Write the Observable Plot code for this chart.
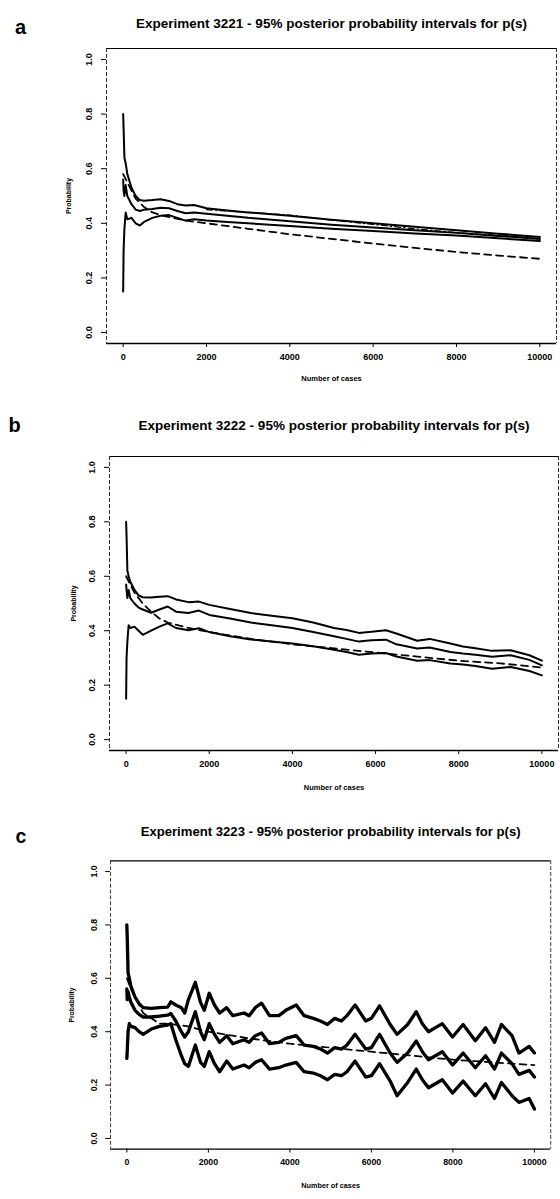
<!DOCTYPE html>
<html>
<head>
<meta charset="utf-8">
<script src="https://cdn.jsdelivr.net/npm/d3@7"></script>
<script src="https://cdn.jsdelivr.net/npm/@observablehq/plot@0.6"></script>
<style>
  html, body { margin: 0; padding: 0; background: #fff; overflow: hidden; }
  #wrap { position: relative; width: 560px; height: 1199px; overflow: hidden; }
  .panel { position: absolute; left: 0; }
  svg { display: block; }
</style>
</head>
<body>
<div id="wrap">
  <div class="panel" id="pa" style="top:0px"></div>
  <div class="panel" id="pb" style="top:400px"></div>
  <div class="panel" id="pc" style="top:800px"></div>
</div>
<script>
// ---------- shared ticks ----------
const xTicks = [0, 2000, 4000, 6000, 8000, 10000];
const yTicks = [0, 0.2, 0.4, 0.6, 0.8, 1.0];
const yTickLabels = ["0.0", "0.2", "0.4", "0.6", "0.8", "1.0"];
const titles = [
  "Experiment 3221 - 95% posterior probability intervals for p(s)",
  "Experiment 3222 - 95% posterior probability intervals for p(s)",
  "Experiment 3223 - 95% posterior probability intervals for p(s)"
];
const letters = ["a", "b", "c"];
const xLabel = "Number of cases";
const yLabel = "Probability";

// ---------- panel a ----------
const xs_a     = [0, 10, 30, 60, 100, 200, 300, 400, 500, 700, 900, 1100, 1300, 1500, 1700, 2000, 2500, 3000, 4000, 5000, 6000, 7000, 8000, 9000, 10000];
const upper_a  = [0.80, 0.75, 0.64, 0.62, 0.58, 0.53, 0.50, 0.485, 0.483, 0.485, 0.488, 0.482, 0.47, 0.465, 0.467, 0.455, 0.447, 0.44, 0.428, 0.413, 0.40, 0.387, 0.375, 0.362, 0.35];
const middle_a = [0.56, 0.52, 0.50, 0.54, 0.50, 0.47, 0.45, 0.445, 0.45, 0.452, 0.457, 0.455, 0.445, 0.437, 0.44, 0.435, 0.428, 0.42, 0.408, 0.395, 0.385, 0.375, 0.365, 0.354, 0.343];
const lower_a  = [0.15, 0.30, 0.38, 0.44, 0.415, 0.42, 0.40, 0.392, 0.405, 0.42, 0.428, 0.43, 0.42, 0.41, 0.415, 0.41, 0.405, 0.40, 0.39, 0.38, 0.372, 0.363, 0.355, 0.345, 0.335];
const xd_a     = [0, 100, 200, 300, 500, 700, 900, 1200, 1500, 2000, 3000, 4000, 5000, 6000, 7000, 8000, 9000, 10000];
const dashed_a = [0.58, 0.55, 0.52, 0.49, 0.46, 0.44, 0.43, 0.42, 0.41, 0.40, 0.38, 0.36, 0.343, 0.326, 0.31, 0.295, 0.282, 0.27];
const xdd_a    = [2000, 3000, 4000, 5000, 6000, 7000, 8000, 9000, 10000];
const dotdash_a = [0.45, 0.44, 0.43, 0.412, 0.396, 0.38, 0.366, 0.356, 0.35];

// ---------- panel b ----------
const xs_b     = [0, 10, 30, 60, 100, 200, 300, 400, 600, 800, 1000, 1200, 1500, 1750, 2000, 2500, 3000, 3500, 4000, 4500, 5000, 5300, 5600, 5900, 6250, 6500, 7000, 7300, 7800, 8100, 8400, 8800, 9250, 9700, 10000];
const upper_b  = [0.80, 0.75, 0.62, 0.60, 0.58, 0.55, 0.53, 0.523, 0.522, 0.525, 0.527, 0.515, 0.505, 0.507, 0.495, 0.48, 0.465, 0.455, 0.446, 0.43, 0.41, 0.403, 0.392, 0.396, 0.402, 0.39, 0.363, 0.37, 0.353, 0.342, 0.336, 0.326, 0.328, 0.31, 0.29];
const middle_b = [0.57, 0.55, 0.52, 0.55, 0.52, 0.50, 0.485, 0.478, 0.466, 0.478, 0.489, 0.47, 0.465, 0.474, 0.458, 0.445, 0.43, 0.42, 0.41, 0.395, 0.38, 0.37, 0.36, 0.365, 0.367, 0.35, 0.335, 0.338, 0.322, 0.316, 0.312, 0.304, 0.31, 0.293, 0.273];
const lower_b  = [0.15, 0.30, 0.36, 0.42, 0.41, 0.415, 0.40, 0.385, 0.40, 0.415, 0.427, 0.41, 0.402, 0.409, 0.395, 0.38, 0.368, 0.36, 0.353, 0.343, 0.33, 0.322, 0.312, 0.316, 0.318, 0.305, 0.29, 0.292, 0.28, 0.276, 0.27, 0.26, 0.267, 0.252, 0.236];
const xd_b     = [0, 100, 200, 300, 400, 600, 800, 1000, 1500, 2000, 3000, 4000, 5000, 6000, 7000, 8000, 9000, 10000];
const dashed_b = [0.60, 0.57, 0.54, 0.52, 0.50, 0.47, 0.445, 0.43, 0.41, 0.395, 0.37, 0.35, 0.335, 0.32, 0.305, 0.29, 0.28, 0.265];

// ---------- panel c ----------
const xs_c     = [0, 10, 30, 60, 100, 200, 300, 400, 600, 800, 1000, 1080, 1200, 1338, 1420, 1510, 1680, 1808, 1900, 2021, 2150, 2277, 2450, 2600, 2875, 3000, 3150, 3305, 3500, 3728, 3900, 4155, 4350, 4575, 4750, 4922, 5100, 5264, 5400, 5600, 5862, 6000, 6200, 6460, 6630, 6890, 7100, 7250, 7400, 7740, 7990, 8250, 8550, 8800, 9020, 9190, 9450, 9620, 9870, 10000];
const upper_c  = [0.80, 0.75, 0.62, 0.60, 0.57, 0.53, 0.505, 0.49, 0.487, 0.49, 0.492, 0.512, 0.50, 0.49, 0.47, 0.52, 0.585, 0.51, 0.48, 0.544, 0.50, 0.47, 0.49, 0.46, 0.47, 0.46, 0.49, 0.507, 0.46, 0.46, 0.48, 0.50, 0.46, 0.45, 0.44, 0.427, 0.45, 0.44, 0.46, 0.50, 0.44, 0.45, 0.497, 0.427, 0.39, 0.427, 0.475, 0.43, 0.40, 0.43, 0.38, 0.427, 0.366, 0.415, 0.36, 0.427, 0.385, 0.32, 0.345, 0.32];
const middle_c = [0.56, 0.52, 0.55, 0.53, 0.51, 0.48, 0.465, 0.455, 0.455, 0.458, 0.462, 0.468, 0.44, 0.40, 0.38, 0.40, 0.475, 0.40, 0.37, 0.43, 0.39, 0.36, 0.385, 0.355, 0.37, 0.36, 0.385, 0.395, 0.355, 0.36, 0.375, 0.385, 0.35, 0.345, 0.335, 0.32, 0.34, 0.335, 0.35, 0.39, 0.335, 0.34, 0.39, 0.32, 0.285, 0.32, 0.365, 0.325, 0.295, 0.325, 0.275, 0.32, 0.265, 0.31, 0.26, 0.32, 0.28, 0.24, 0.255, 0.23];
const lower_c  = [0.30, 0.33, 0.40, 0.43, 0.42, 0.415, 0.40, 0.39, 0.41, 0.42, 0.425, 0.43, 0.37, 0.31, 0.28, 0.27, 0.35, 0.285, 0.27, 0.325, 0.28, 0.25, 0.29, 0.26, 0.275, 0.265, 0.285, 0.295, 0.26, 0.265, 0.275, 0.285, 0.25, 0.245, 0.235, 0.22, 0.24, 0.235, 0.25, 0.29, 0.23, 0.235, 0.28, 0.215, 0.16, 0.21, 0.26, 0.22, 0.19, 0.22, 0.17, 0.215, 0.16, 0.205, 0.15, 0.21, 0.16, 0.135, 0.15, 0.11];
const xd_c     = [0, 100, 200, 400, 600, 800, 1000, 1500, 2000, 3000, 4000, 5000, 6000, 7000, 8000, 9000, 10000];
const dashed_c = [0.60, 0.56, 0.53, 0.47, 0.45, 0.43, 0.43, 0.42, 0.40, 0.375, 0.355, 0.34, 0.325, 0.31, 0.295, 0.285, 0.275];

// ---------- helpers ----------
const rows = (xs, ys) => xs.map((x, i) => ({x, y: ys[i]}));
const FONT = "'Liberation Sans', Arial, Helvetica, sans-serif";

function panel(cfg) {
  const marks = [
    // frame
    Plot.ruleY([-0.04], {stroke: "#000", strokeWidth: 1.3}),
    Plot.ruleY([1.04], {stroke: "#000", strokeWidth: 1.1}),
    Plot.ruleX([-400], {stroke: "#333", strokeWidth: 1, strokeDasharray: "4,2"}),
    Plot.ruleX([10400], {stroke: "#333", strokeWidth: 1, strokeDasharray: "4,2"}),
    // axes
    Plot.axisX({ticks: xTicks, tickSize: 4, tickPadding: 6, tickFormat: d => String(d),
      fontSize: 9, fontWeight: "bold", label: null}),
    Plot.axisY({ticks: yTicks, tickSize: 5, tickFormat: () => "", label: null}),
    Plot.text(yTicks, {x: -400, y: d => d, text: (d, i) => yTickLabels[i], rotate: -90,
      dx: cfg.yLabDx, fontSize: 9, fontWeight: "bold", textAnchor: "middle", lineAnchor: "middle"}),
    // series
    ...cfg.solid.map(s => Plot.line(s, {x: "x", y: "y", stroke: "#000", strokeWidth: cfg.sw, strokeLinejoin: "round"})),
    Plot.line(cfg.dashed, {x: "x", y: "y", stroke: "#000", strokeWidth: 1.8, strokeDasharray: "7,5"}),
    ...(cfg.dotdash ? [Plot.line(cfg.dotdash, {x: "x", y: "y", stroke: "#000", strokeWidth: 1.2, strokeDasharray: "6,3,1.5,3"})] : []),
    // texts
    Plot.text([cfg.title], {frameAnchor: "top", dy: cfg.titleDy, fontSize: 13.5, fontWeight: "bold", text: d => d, lineAnchor: "middle"}),
    Plot.text([cfg.letter], {frameAnchor: "top-left", dx: cfg.letterDx, dy: cfg.letterDy, fontSize: 20,
      fontWeight: "bold", text: d => d, textAnchor: "middle", lineAnchor: "middle"}),
    Plot.text([yLabel], {frameAnchor: "left", dx: cfg.ylabelDx, rotate: -90, fontSize: 7, fontWeight: "bold",
      text: d => d, textAnchor: "middle", lineAnchor: "middle"}),
    Plot.text([xLabel], {frameAnchor: "bottom", dy: cfg.xlabelDy, fontSize: 7.5, fontWeight: "bold",
      text: d => d, lineAnchor: "middle"})
  ];
  return Plot.plot({
    width: cfg.width, height: cfg.height,
    marginTop: cfg.mt, marginBottom: cfg.mb, marginLeft: cfg.ml, marginRight: cfg.mr,
    x: {domain: [-400, 10400], axis: null},
    y: {domain: [-0.04, 1.04], axis: null},
    style: {fontFamily: FONT, color: "#000", background: "#fff", overflow: "visible"},
    marks
  });
}

document.getElementById("pa").appendChild(panel({
  width: 560, height: 400, mt: 48, mb: 57, ml: 106, mr: 4,
  solid: [rows(xs_a, upper_a), rows(xs_a, middle_a), rows(xs_a, lower_a)],
  dashed: rows(xd_a, dashed_a), dotdash: rows(xdd_a, dotdash_a), sw: 2,
  title: titles[0], titleDy: -25, letter: letters[0], letterDx: -86, letterDy: -21,
  ylabelDx: -38, yLabDx: -17, xlabelDy: 35
}));
document.getElementById("pb").appendChild(panel({
  width: 560, height: 400, mt: 56, mb: 50, ml: 109, mr: 2,
  solid: [rows(xs_b, upper_b), rows(xs_b, middle_b), rows(xs_b, lower_b)],
  dashed: rows(xd_b, dashed_b), sw: 2,
  title: titles[1], titleDy: -31, letter: letters[1], letterDx: -95, letterDy: -31,
  ylabelDx: -36, yLabDx: -17, xlabelDy: 37
}));
document.getElementById("pc").appendChild(panel({
  width: 575, height: 399, mt: 62, mb: 41, ml: 113, mr: 10,
  solid: [rows(xs_c, upper_c), rows(xs_c, middle_c), rows(xs_c, lower_c)],
  dashed: rows(xd_c, dashed_c), sw: 3.4,
  title: titles[2], titleDy: -30, letter: letters[2], letterDx: -92, letterDy: -25,
  ylabelDx: -40, yLabDx: -17, xlabelDy: 37
}));
</script>
</body>
</html>
